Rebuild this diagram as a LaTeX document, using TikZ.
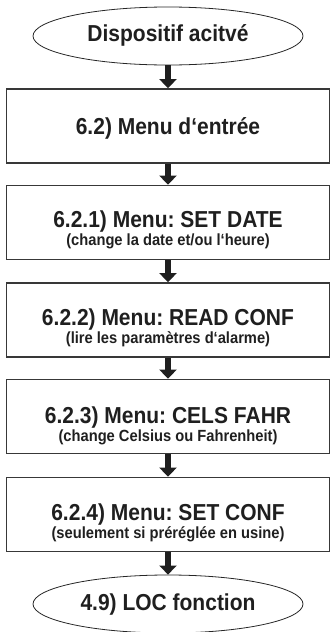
\documentclass[tikz,border=0pt]{standalone}
\usepackage{fontspec}
\setmainfont{Liberation Sans}
\usepackage{graphicx}
\usetikzlibrary{shapes.geometric,arrows.meta}
\newcommand\vstretch[1]{\scalebox{1}[1.1]{#1}}
\frenchspacing
\begin{document}
\frenchspacing
\begin{tikzpicture}[x=1pt,y=-1pt,
  box/.style={draw=black!78, line width=1.7pt, minimum width=323pt, minimum height=74pt, inner sep=0pt},
  term/.style={draw=black!85, ellipse, line width=0.8pt, minimum width=270pt, minimum height=58pt, inner sep=0pt},
  ttl/.style={font=\fontsize{21}{21}\selectfont\bfseries\frenchspacing, text=black!88, inner sep=0pt, anchor=base},
  subt/.style={font=\fontsize{14.7}{14.7}\selectfont\bfseries\frenchspacing, text=black!88, inner sep=0pt, anchor=base},
  arr/.style={line width=5.5pt, draw=black!88, -{Triangle[width=17pt,length=9pt]}}]
\useasboundingbox (0,0) rectangle (330,632);
% terminals and boxes
\node[term] (start) at (168,36) {};
\node[ttl] (startT) at (168,41.7) {\vstretch{Dispositif acitvé}};
\node[box] (b1) at (168,126) {};
\node[ttl] (b1T) at (168,134) {\vstretch{6.2) Menu d‘entrée}};
\node[box] (b2) at (168,222.5) {};
\node[ttl] (b2T) at (168,227.5) {\vstretch{6.2.1) Menu: SET DATE}};
\node[subt] (b2S) at (168,245.5) {\vstretch{(change la date et/ou l‘heure)}};
\node[box] (b3) at (168,320) {};
\node[ttl] (b3T) at (168,325.5) {\vstretch{6.2.2) Menu: READ CONF}};
\node[subt] (b3S) at (168,343.5) {\vstretch{(lire les paramètres d‘alarme)}};
\node[box] (b4) at (168,416.5) {};
\node[ttl] (b4T) at (168,423) {\vstretch{6.2.3) Menu: CELS FAHR}};
\node[subt] (b4S) at (168,441) {\vstretch{(change Celsius ou Fahrenheit)}};
\node[box] (b5) at (168,514.5) {};
\node[ttl] (b5T) at (168,520.5) {\vstretch{6.2.4) Menu: SET CONF}};
\node[subt] (b5S) at (168,538.5) {\vstretch{(seulement si préréglée en usine)}};
\node[term] (end) at (168,604) {};
\node[ttl] (endT) at (168,610) {\vstretch{4.9) LOC fonction}};
% arrows
\draw[arr] (start.south) -- (b1.north);
\draw[arr] (b1.south) -- (b2.north);
\draw[arr] (b2.south) -- (b3.north);
\draw[arr] (b3.south) -- (b4.north);
\draw[arr] (b4.south) -- (b5.north);
\draw[arr] (b5.south) -- (end.north);
\end{tikzpicture}
\end{document}
